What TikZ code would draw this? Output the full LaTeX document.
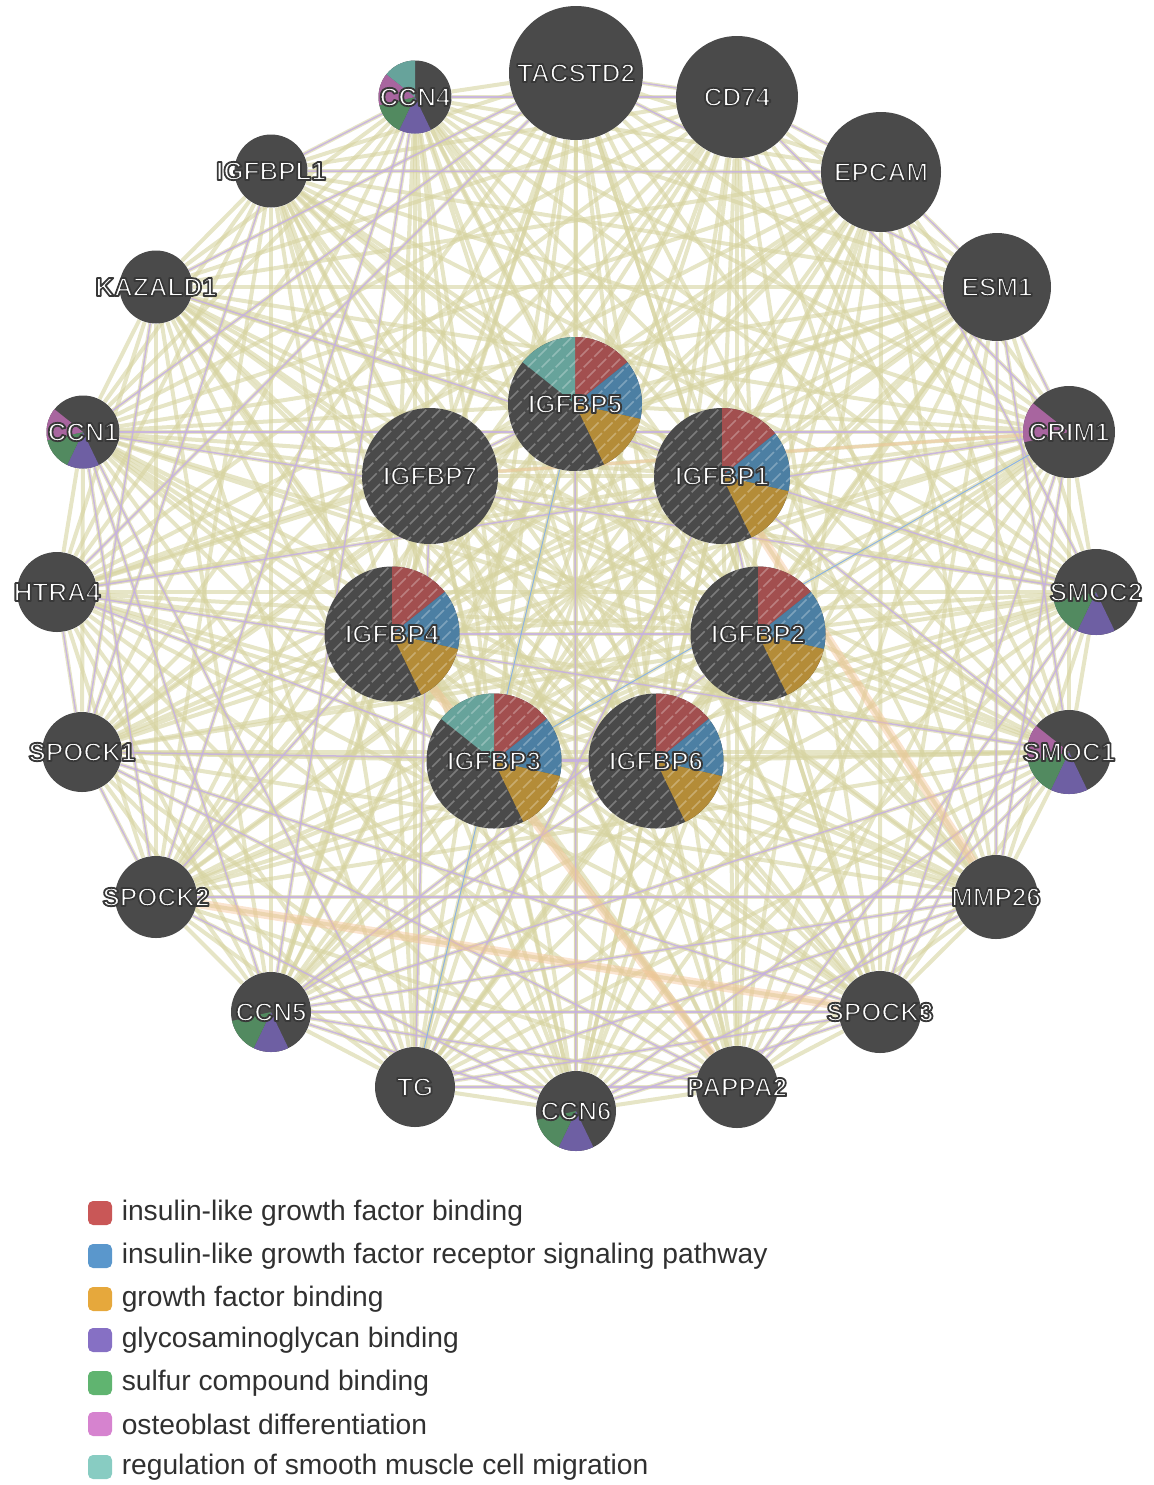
\documentclass[tikz,border=0pt]{standalone}
\usepackage{fontspec}
\setmainfont{Liberation Sans}
\usepackage{tikz}
\usetikzlibrary{positioning, backgrounds}
\usepackage{xcolor}

\definecolor{nodegray}{HTML}{4A4A4A}
\definecolor{cat1}{HTML}{A24F4F}
\definecolor{cat2}{HTML}{4C7FA3}
\definecolor{cat3}{HTML}{B48C38}
\definecolor{cat4}{HTML}{6E5FA3}
\definecolor{cat5}{HTML}{528A60}
\definecolor{cat6}{HTML}{A8659F}
\definecolor{cat7}{HTML}{67A39B}
\definecolor{key1}{HTML}{C95757}
\definecolor{key2}{HTML}{5A97CC}
\definecolor{key3}{HTML}{E6A83C}
\definecolor{key4}{HTML}{8670C4}
\definecolor{key5}{HTML}{60B470}
\definecolor{key6}{HTML}{D683CF}
\definecolor{key7}{HTML}{88CCC2}
\definecolor{domaincol}{HTML}{D6D3A0}
\definecolor{coexpcol}{HTML}{C6B0E2}
\definecolor{predcol}{HTML}{F5C396}
\definecolor{coloccol}{HTML}{8DB3E2}
\definecolor{keygray}{HTML}{303030}

\newcommand{\genefont}{\fontsize{13}{13}\bfseries}
\newcommand{\keyfont}{\fontsize{14.1}{16}\selectfont}
% white label with a dark rim (fill + stroke), no width of its own
\newcommand{\halo}[1]{\makebox[0pt]{%
  \special{pdf:literal direct 2 Tr 0.9 w 1 j 0.22 0.22 0.22 RG}#1\special{pdf:literal direct 0 Tr}}}
% one wedge per category, 1/7 of the circle each, clockwise from 12 o'clock
\newcommand{\pieslices}[1]{%
  \foreach \k in {#1}{%
    \fill[fill=cat\k] (path picture bounding box.center) -- ++({90-360/7*(\k-1)}:40pt)
      arc[start angle={90-360/7*(\k-1)}, delta angle={-360/7}, radius=40pt] -- cycle;}}
% light diagonal stripes of the query genes
\newcommand{\hatchfill}{%
  \foreach \s in {-12,...,12}{%
    \draw[white, opacity=0.28, line width=0.8pt, dash pattern=on 6pt off 1.5pt]
      ([shift={(\s*7pt-40pt,-40pt)}]path picture bounding box.center) -- ++(80pt,80pt);}}

\begin{document}
\begin{tikzpicture}[x=0.5pt, y=0.5pt,
  gene/.style={circle, fill=nodegray, minimum size=#1pt, inner sep=0pt, text=white, font=\genefont},
  pie/.style={path picture={\pieslices{#1}}},
  query/.style={path picture={\pieslices{#1}\hatchfill}},
  hatch/.style={path picture={\hatchfill}},
  domainedge/.style={draw=domaincol, line width=2pt, opacity=0.6},
  coexpedge/.style={draw=coexpcol, line width=0.75pt, opacity=0.85},
  prededge/.style={draw=predcol, line width=4.5pt, opacity=0.45},
  colocedge/.style={draw=coloccol, line width=0.5pt},
  swatch/.style={rounded corners=2.5pt, minimum size=12pt, inner sep=0pt},
  keytext/.style={font=\keyfont, text=keygray, inner sep=0pt}
]
\useasboundingbox (0,0) rectangle (1153,-1485);

% Outer ring
\node[gene=67] (tacstd2) at (576,-73) {\halo{TACSTD2}};
\node[gene=61] (cd74) at (737,-97) {\halo{CD74}};
\node[gene=60] (epcam) at (881,-172) {\halo{EPCAM}};
\node[gene=54] (esm1) at (997,-287) {\halo{ESM1}};
\node[gene=46, pie={6}] (crim1) at (1069,-432) {\halo{CRIM1}};
\node[gene=43, pie={4,5}] (smoc2) at (1096,-592) {\halo{SMOC2}};
\node[gene=42, pie={4,5,6}] (smoc1) at (1069,-752) {\halo{SMOC1}};
\node[gene=42] (mmp26) at (996,-897) {\halo{MMP26}};
\node[gene=41] (spock3) at (880,-1012) {\halo{SPOCK3}};
\node[gene=41] (pappa2) at (737,-1087) {\halo{PAPPA2}};
\node[gene=40, pie={4,5}] (ccn6) at (576,-1111) {\halo{CCN6}};
\node[gene=40] (tg) at (415,-1087) {\halo{TG}};
\node[gene=40, pie={4,5}] (ccn5) at (271,-1012) {\halo{CCN5}};
\node[gene=41] (spock2) at (156,-897) {\halo{SPOCK2}};
\node[gene=40] (spock1) at (82,-752) {\halo{SPOCK1}};
\node[gene=40] (htra4) at (57,-592) {\halo{HTRA4}};
\node[gene=36.5, pie={4,5,6}] (ccn1) at (83,-432) {\halo{CCN1}};
\node[gene=36.5] (kazald1) at (156,-287) {\halo{KAZALD1}};
\node[gene=36.5] (igfbpl1) at (271,-171) {\halo{IGFBPL1}};
\node[gene=36.5, pie={4,5,6,7}] (ccn4) at (415,-97) {\halo{CCN4}};

% Query genes
\node[gene=67, query={1,2,3,7}] (igfbp5) at (575,-404) {\halo{IGFBP5}};
\node[gene=68, query={1,2,3}] (igfbp1) at (722,-476) {\halo{IGFBP1}};
\node[gene=68, hatch] (igfbp7) at (430,-476) {\halo{IGFBP7}};
\node[gene=67.5, query={1,2,3}] (igfbp4) at (392,-634) {\halo{IGFBP4}};
\node[gene=67.5, query={1,2,3}] (igfbp2) at (758,-634) {\halo{IGFBP2}};
\node[gene=67.5, query={1,2,3,7}] (igfbp3) at (494,-761) {\halo{IGFBP3}};
\node[gene=67.5, query={1,2,3}] (igfbp6) at (656,-761) {\halo{IGFBP6}};

% Edges (behind the nodes)
\def\allgenes{tacstd2,cd74,epcam,esm1,crim1,smoc2,smoc1,mmp26,spock3,pappa2,ccn6,tg,ccn5,spock2,spock1,htra4,ccn1,kazald1,igfbpl1,ccn4,igfbp5,igfbp1,igfbp7,igfbp4,igfbp2,igfbp3,igfbp6}
\begin{scope}[on background layer]
\foreach \a [count=\i] in \allgenes {
  \foreach \b [count=\j] in \allgenes {
    \ifnum\j>\i \draw[domainedge] (\a) -- (\b); \fi
  }
}
\foreach \a/\b in {ccn5/spock3, ccn5/pappa2, ccn5/ccn6, ccn5/mmp26, ccn5/smoc1, ccn5/igfbp2,
  tg/spock3, tg/pappa2, tg/mmp26, tg/ccn1, ccn6/spock3, ccn6/mmp26, ccn6/smoc1, ccn6/spock2,
  pappa2/smoc1, pappa2/smoc2, pappa2/spock1, spock3/smoc2, spock3/crim1, spock3/spock1,
  mmp26/crim1, mmp26/esm1, mmp26/spock2, smoc1/esm1, smoc1/htra4, smoc2/epcam, smoc2/ccn1,
  crim1/esm1, crim1/cd74, esm1/epcam, esm1/tacstd2, epcam/cd74, epcam/igfbpl1, cd74/tacstd2,
  cd74/ccn4, tacstd2/kazald1, tacstd2/ccn1, tacstd2/htra4, ccn4/igfbpl1, ccn4/spock2, ccn4/ccn5,
  igfbpl1/spock1, kazald1/spock1, kazald1/smoc2, ccn1/spock2, ccn1/ccn5, htra4/spock1,
  htra4/igfbp3, spock1/spock2, spock1/igfbp6, spock2/igfbp4, igfbp7/tg, igfbp5/ccn6,
  igfbp1/smoc1, igfbp4/igfbp2, igfbp3/igfbp6, igfbp5/igfbp7, igfbp1/igfbp2, ccn5/igfbp6,
  tg/igfbp1, htra4/crim1, ccn1/crim1}
  \draw[coexpedge] (\a) -- (\b);
\foreach \a/\b in {spock2/spock3, igfbp4/pappa2, igfbp1/mmp26}
  \draw[prededge] (\a) -- (\b);
\draw[prededge, line width=1.5pt] (igfbp7) -- (crim1);
\draw[colocedge] (tg) -- (igfbp5);
\draw[colocedge] (crim1) -- (igfbp3);
\end{scope}

% Legend
\node[swatch, fill=key1] (k1) at (100,-1213) {};
\node[swatch, fill=key2] (k2) at (100,-1256) {};
\node[swatch, fill=key3] (k3) at (100,-1299) {};
\node[swatch, fill=key4] (k4) at (100,-1340) {};
\node[swatch, fill=key5] (k5) at (100,-1383) {};
\node[swatch, fill=key6] (k6) at (100,-1424) {};
\node[swatch, fill=key7] (k7) at (100,-1467) {};
\node[keytext, right=4.5pt of k1] (t1) {insulin-like growth factor binding};
\node[keytext, right=4.5pt of k2] (t2) {insulin-like growth factor receptor signaling pathway};
\node[keytext, right=4.5pt of k3] (t3) {growth factor binding};
\node[keytext, right=4.5pt of k4] (t4) {glycosaminoglycan binding};
\node[keytext, right=4.5pt of k5] (t5) {sulfur compound binding};
\node[keytext, right=4.5pt of k6] (t6) {osteoblast differentiation};
\node[keytext, right=4.5pt of k7] (t7) {regulation of smooth muscle cell migration};
\end{tikzpicture}
\end{document}
